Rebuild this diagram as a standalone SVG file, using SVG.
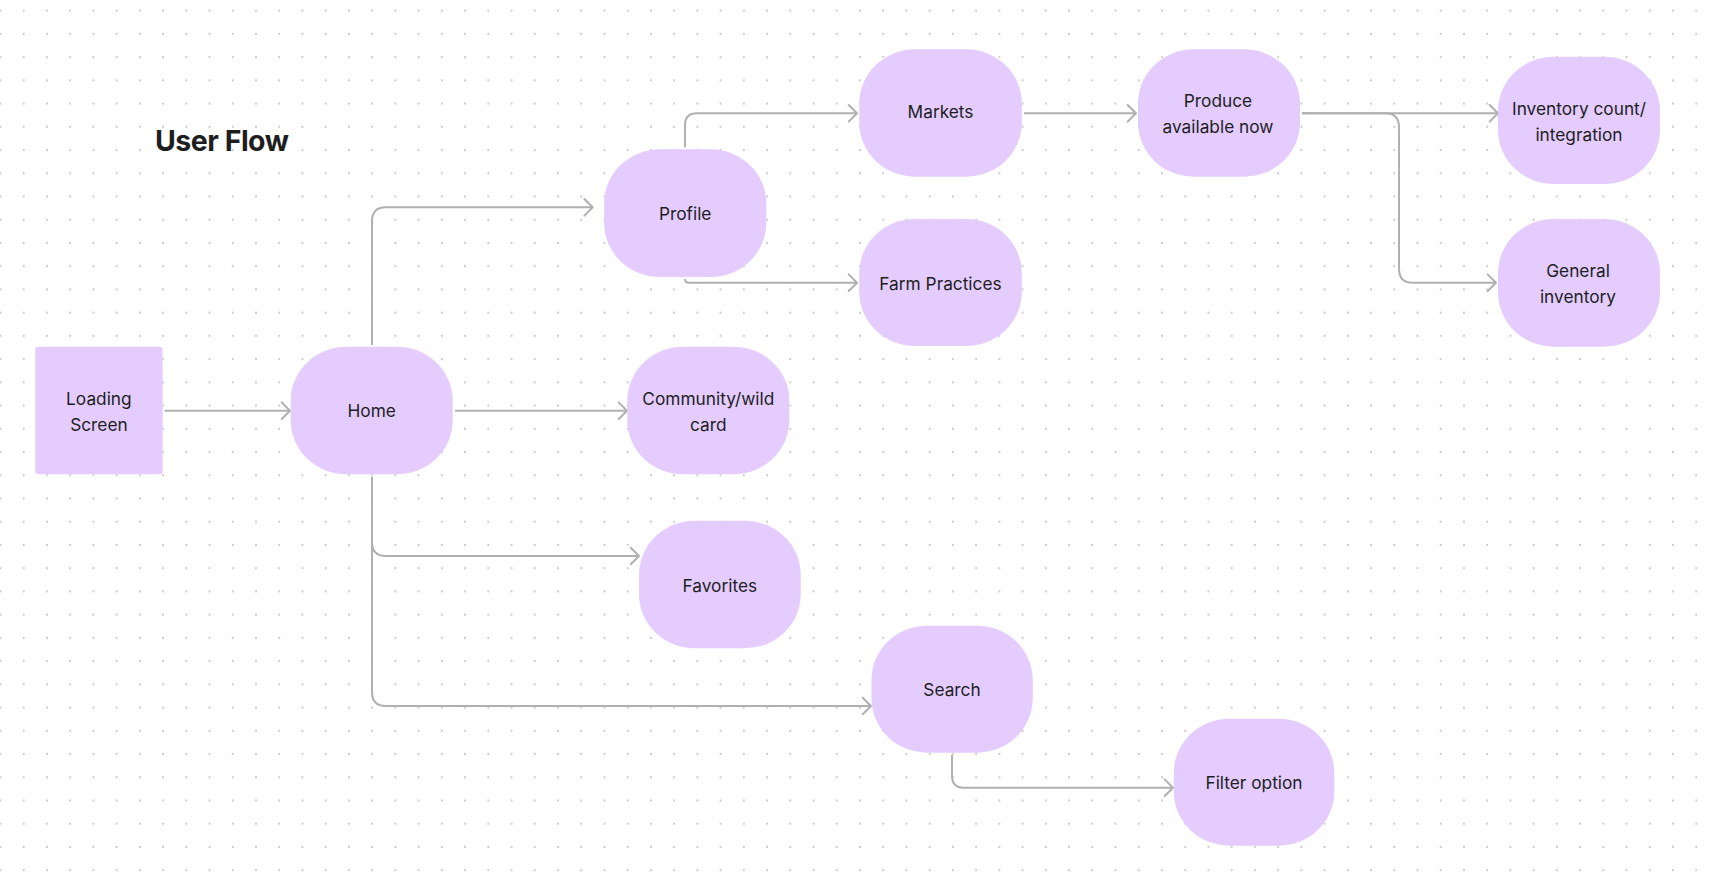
<svg xmlns="http://www.w3.org/2000/svg" width="1715" height="883" viewBox="0 0 1715 883">
  <defs>
    <pattern id="dots" patternUnits="userSpaceOnUse" x="12.085" y="-0.915" width="23.23" height="23.23">
      <circle cx="11.615" cy="11.615" r="1.1" fill="#c9c9c9"/>
    </pattern>
    <marker id="arrow" viewBox="-11 -11 13 22" refX="0" refY="0" markerWidth="13" markerHeight="22" markerUnits="userSpaceOnUse" orient="auto">
      <path d="M-8.3,-8.3 L0,0 L-8.3,8.3" fill="none" stroke="#b0b0b0" stroke-width="2" stroke-linecap="round" stroke-linejoin="round"/>
    </marker>
    <style>
      .node { fill: #E4CCFF; }
      .label { font-family: Inter, "Noto Sans", "Liberation Sans", sans-serif; font-size: 17.3px; fill: #1e1e1e; text-anchor: middle; }
      .title { font-family: Inter, "Noto Sans", "Liberation Sans", sans-serif; font-size: 28.5px; font-weight: 700; fill: #1e1e1e; letter-spacing: -0.5px; }
      .conn { fill: none; stroke: #b0b0b0; stroke-width: 2; marker-end: url(#arrow); }
    </style>
  </defs>
  <rect width="1715" height="883" fill="#ffffff"/>
  <rect width="1715" height="883" fill="url(#dots)"/>

  <text class="title" x="155" y="151">User Flow</text>

  <g id="connectors">
    <path class="conn" d="M164.6,410.7 H290"/>
    <path class="conn" d="M372,345 V221.3 Q372,207.3 386,207.3 H592.7"/>
    <path class="conn" d="M455,410.7 H627"/>
    <path class="conn" d="M372,477 V542 Q372,556 386,556 H639"/>
    <path class="conn" d="M372,477 V692 Q372,706 386,706 H871"/>
    <path class="conn" d="M952,755 V775.7 Q952,787.7 964,787.7 H1173"/>
    <path class="conn" d="M685,147.3 V125.3 Q685,113.3 697,113.3 H857"/>
    <path class="conn" d="M685,279 Q685,282.7 689,282.7 H857"/>
    <path class="conn" d="M1024,113.3 H1136"/>
    <path class="conn" d="M1302,113.3 H1498"/>
    <path class="conn" d="M1302,113.3 H1385 Q1399,113.3 1399,127.3 V268.7 Q1399,282.7 1413,282.7 H1496"/>
  </g>

  <g id="loading">
    <rect class="node" x="35.2" y="346.7" width="127.4" height="127.5" rx="3"/>
    <text class="label" x="98.9" y="404.6">Loading</text>
    <text class="label" x="98.9" y="430.6">Screen</text>
  </g>
  <g id="home">
    <rect class="node" x="290.7" y="346.7" width="162" height="127.6" rx="56" ry="54"/>
    <text class="label" x="371.7" y="417">Home</text>
  </g>
  <g id="profile">
    <rect class="node" x="604.1" y="149.3" width="162.2" height="127.7" rx="56" ry="54"/>
    <text class="label" x="685.2" y="219.6">Profile</text>
  </g>
  <g id="community">
    <rect class="node" x="627.3" y="346.7" width="162" height="127.6" rx="56" ry="54"/>
    <text class="label" x="708.3" y="404.6">Community/wild</text>
    <text class="label" x="708.3" y="430.6">card</text>
  </g>
  <g id="favorites">
    <rect class="node" x="639" y="520.7" width="161.7" height="127.6" rx="56" ry="54"/>
    <text class="label" x="719.8" y="591.6">Favorites</text>
  </g>
  <g id="markets">
    <rect class="node" x="859.3" y="49.3" width="162.5" height="127.4" rx="56" ry="54"/>
    <text class="label" x="940.5" y="118">Markets</text>
  </g>
  <g id="farm-practices">
    <rect class="node" x="859.3" y="219" width="162.5" height="127" rx="56" ry="54"/>
    <text class="label" x="940.5" y="290.3">Farm Practices</text>
  </g>
  <g id="produce">
    <rect class="node" x="1138" y="49.3" width="162" height="127.4" rx="56" ry="54"/>
    <text class="label" x="1218" y="107.3">Produce</text>
    <text class="label" x="1218" y="133.3">available now</text>
  </g>
  <g id="inventory-count">
    <rect class="node" x="1498" y="56.7" width="162" height="127.3" rx="56" ry="54"/>
    <text class="label" x="1579" y="114.6">Inventory count/</text>
    <text class="label" x="1579" y="140.6">integration</text>
  </g>
  <g id="general-inventory">
    <rect class="node" x="1498" y="219" width="162" height="127.7" rx="56" ry="54"/>
    <text class="label" x="1578" y="277">General</text>
    <text class="label" x="1578" y="303">inventory</text>
  </g>
  <g id="search">
    <rect class="node" x="871.5" y="625.7" width="161.2" height="127" rx="56" ry="54"/>
    <text class="label" x="952" y="696.3">Search</text>
  </g>
  <g id="filter-option">
    <rect class="node" x="1173.8" y="718.7" width="160.5" height="127" rx="56" ry="54"/>
    <text class="label" x="1254" y="789">Filter option</text>
  </g>
</svg>
